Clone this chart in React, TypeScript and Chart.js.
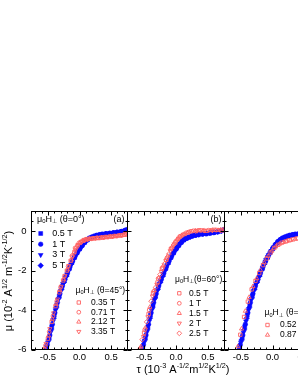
import React, { useEffect, useRef } from 'react';
import { Chart, registerables } from 'chart.js';
import { drawPoint } from 'chart.js/helpers';

Chart.register(...registerables);

const FONT = '"Liberation Sans", Arial, "DejaVu Sans", sans-serif';
const BLUE = '#0a0aff';
const RED = '#ff6262';

// axis ranges and ticks
const X_MIN = -0.76;
const X_MAX = 0.76;
const Y_MIN = -6;
const Y_MAX = 1;
const xMajorTicks = [-0.5, 0, 0.5];
const xMinorTicks = [-0.7, -0.6, -0.4, -0.3, -0.2, -0.1, 0.1, 0.2, 0.3, 0.4, 0.6, 0.7];
const yMajorTicks = [-6, -4, -2, 0];
const yMinorTicks = [-5.5, -5, -4.5, -3.5, -3, -2.5, -1.5, -1, -0.5, 0.5];

// theta = 0 deg (blue, filled)
const tauB05 = [-0.56, -0.52, -0.48, -0.44, -0.40, -0.36, -0.32, -0.28, -0.24, -0.20, -0.16, -0.12, -0.08, -0.04, 0.00, 0.04, 0.08, 0.12, 0.16, 0.20, 0.24, 0.28, 0.33, 0.39, 0.45, 0.51, 0.57, 0.63, 0.69, 0.75];
const muB05 = [-6.35, -5.87, -5.40, -4.86, -4.27, -3.75, -3.28, -2.86, -2.52, -2.20, -1.88, -1.59, -1.33, -1.10, -0.90, -0.72, -0.57, -0.45, -0.36, -0.30, -0.25, -0.21, -0.18, -0.14, -0.12, -0.10, -0.07, -0.04, 0.00, 0.08];
const tauB1 = [-0.55, -0.51, -0.47, -0.43, -0.39, -0.35, -0.31, -0.27, -0.23, -0.19, -0.15, -0.11, -0.07, -0.03, 0.01, 0.05, 0.09, 0.13, 0.17, 0.21, 0.25, 0.30, 0.36, 0.42, 0.48, 0.54, 0.60, 0.66, 0.72];
const muB1 = [-6.25, -5.76, -5.27, -4.72, -4.14, -3.62, -3.17, -2.77, -2.44, -2.12, -1.80, -1.52, -1.27, -1.05, -0.86, -0.68, -0.53, -0.42, -0.34, -0.29, -0.24, -0.20, -0.16, -0.13, -0.11, -0.08, -0.06, -0.02, 0.03];
const tauB3 = [-0.54, -0.50, -0.46, -0.42, -0.38, -0.34, -0.30, -0.26, -0.22, -0.18, -0.14, -0.10, -0.06, -0.02, 0.02, 0.06, 0.10, 0.14, 0.18, 0.22, 0.26, 0.31, 0.37, 0.43, 0.49, 0.55, 0.61, 0.67, 0.73];
const muB3 = [-6.12, -5.65, -5.14, -4.57, -4.01, -3.50, -3.06, -2.68, -2.36, -2.04, -1.73, -1.45, -1.21, -1.00, -0.81, -0.64, -0.50, -0.40, -0.33, -0.28, -0.23, -0.19, -0.16, -0.13, -0.11, -0.08, -0.05, -0.01, 0.05];
const tauB5 = [-0.53, -0.49, -0.45, -0.41, -0.37, -0.33, -0.29, -0.25, -0.21, -0.17, -0.13, -0.09, -0.05, -0.01, 0.03, 0.07, 0.11, 0.15, 0.19, 0.23, 0.27, 0.32, 0.35, 0.41, 0.47, 0.53, 0.59, 0.65, 0.71, 0.76];
const muB5 = [-6.00, -5.52, -5.00, -4.42, -3.88, -3.39, -2.96, -2.60, -2.28, -1.96, -1.66, -1.39, -1.15, -0.95, -0.77, -0.60, -0.47, -0.38, -0.32, -0.27, -0.22, -0.18, -0.17, -0.14, -0.12, -0.09, -0.06, -0.03, 0.02, 0.09];

// theta = 45 deg (panel a, red open)
const tauA035 = [-0.56, -0.50, -0.44, -0.38, -0.32, -0.26, -0.20, -0.14, -0.08, -0.03, 0.02, 0.07, 0.12, 0.18, 0.24, 0.30, 0.37, 0.44, 0.51, 0.58, 0.65, 0.72];
const muA035 = [-6.0, -5.45, -4.6, -3.8, -3.1, -2.5, -2.0, -1.5, -1.05, -0.72, -0.55, -0.45, -0.4, -0.38, -0.36, -0.35, -0.33, -0.3, -0.28, -0.25, -0.22, -0.18];
const tauA071 = [-0.54, -0.48, -0.42, -0.36, -0.30, -0.24, -0.18, -0.12, -0.07, -0.01, 0.04, 0.09, 0.15, 0.21, 0.27, 0.33, 0.40, 0.47, 0.54, 0.61, 0.68, 0.75];
const muA071 = [-5.8, -5.1, -4.3, -3.55, -2.85, -2.3, -1.8, -1.25, -0.85, -0.6, -0.5, -0.42, -0.38, -0.36, -0.34, -0.33, -0.3, -0.27, -0.25, -0.22, -0.2, -0.15];
const tauA212 = [-0.55, -0.49, -0.43, -0.37, -0.31, -0.25, -0.19, -0.13, -0.09, -0.05, 0.0, 0.05, 0.10, 0.16, 0.22, 0.28, 0.35, 0.42, 0.49, 0.56, 0.63, 0.70];
const muA212 = [-5.95, -5.3, -4.45, -3.7, -3.0, -2.45, -1.95, -1.45, -1.1, -0.8, -0.62, -0.5, -0.43, -0.4, -0.37, -0.35, -0.32, -0.3, -0.27, -0.25, -0.22, -0.2];
const tauA335 = [-0.53, -0.47, -0.41, -0.35, -0.29, -0.23, -0.17, -0.11, -0.06, -0.02, 0.03, 0.08, 0.13, 0.19, 0.25, 0.31, 0.38, 0.45, 0.52, 0.59, 0.66, 0.73];
const muA335 = [-5.7, -4.95, -4.15, -3.45, -2.8, -2.25, -1.75, -1.3, -0.95, -0.7, -0.55, -0.47, -0.42, -0.38, -0.35, -0.32, -0.3, -0.28, -0.26, -0.23, -0.2, -0.12];

// theta = 60 deg (panel b, red open)
const tauC05 = [-0.57, -0.50, -0.43, -0.36, -0.29, -0.22, -0.15, -0.08, -0.01, 0.06, 0.14, 0.24, 0.36, 0.48, 0.60, 0.72];
const muC05 = [-6.05, -5.15, -4.2, -3.15, -2.6, -1.9, -1.45, -0.9, -0.58, -0.28, -0.14, 0.0, 0.05, 0.02, 0.07, 0.04];
const tauC1 = [-0.56, -0.49, -0.42, -0.35, -0.28, -0.21, -0.14, -0.07, 0.0, 0.07, 0.16, 0.27, 0.39, 0.51, 0.63, 0.75];
const muC1 = [-5.95, -5.0, -4.0, -3.05, -2.4, -1.85, -1.35, -0.85, -0.5, -0.25, -0.08, 0.02, 0.04, 0.05, 0.06, 0.1];
const tauC15 = [-0.55, -0.48, -0.41, -0.34, -0.27, -0.20, -0.13, -0.06, 0.02, 0.09, 0.18, 0.30, 0.42, 0.54, 0.66];
const muC15 = [-5.85, -4.9, -3.85, -3.0, -2.35, -1.75, -1.25, -0.8, -0.43, -0.22, -0.07, 0.02, 0.03, 0.04, 0.05];
const tauC2 = [-0.58, -0.51, -0.44, -0.37, -0.30, -0.23, -0.16, -0.09, -0.03, 0.04, 0.12, 0.21, 0.33, 0.45, 0.57, 0.69];
const muC2 = [-6.2, -5.35, -4.35, -3.3, -2.7, -2.05, -1.5, -1.0, -0.65, -0.36, -0.16, -0.04, 0.02, 0.03, 0.04, 0.06];
const tauC25 = [-0.53, -0.46, -0.39, -0.32, -0.25, -0.18, -0.11, -0.04, 0.03, 0.10, 0.20, 0.31, 0.44, 0.57, 0.70];
const muC25 = [-5.5, -4.6, -3.55, -2.85, -2.2, -1.65, -1.15, -0.7, -0.4, -0.2, -0.05, 0.01, 0.03, 0.05, 0.07];

// panel c (red open)
const tauD052 = [-0.57, -0.51, -0.45, -0.39, -0.33, -0.27, -0.21, -0.15, -0.09, -0.03, 0.03, 0.09, 0.15, 0.21, 0.27, 0.33, 0.40, 0.48, 0.56, 0.64, 0.72];
const muD052 = [-6.1, -5.25, -4.35, -3.57, -2.95, -2.52, -2.12, -1.72, -1.38, -1.08, -0.85, -0.69, -0.58, -0.52, -0.46, -0.41, -0.37, -0.32, -0.28, -0.24, -0.2];
const tauD087 = [-0.55, -0.49, -0.43, -0.37, -0.31, -0.25, -0.19, -0.13, -0.07, -0.01, 0.05, 0.11, 0.17, 0.23, 0.29, 0.36, 0.44, 0.52, 0.60, 0.68, 0.75];
const muD087 = [-5.85, -4.95, -4.05, -3.35, -2.8, -2.4, -1.98, -1.6, -1.27, -1.0, -0.79, -0.65, -0.56, -0.5, -0.45, -0.39, -0.35, -0.3, -0.26, -0.22, -0.18];

type Part = [string, number];
const TITLE_Y: Part[] = [['μ (10', 0], ['-2', 1], [' A', 0], ['1/2', 1], [' m', 0], ['-1/2', 1], ['K', 0], ['-1/2', 1], [')', 0]];
const TITLE_X: Part[] = [['τ (10', 0], ['-3', 1], [' A', 0], ['-1/2', 1], ['m', 0], ['1/2', 1], ['K', 0], ['1/2', 1], [')', 0]];
const H0: Part[] = [['μ', 0], ['0', -1], ['H', 0], ['⊥', -1], [' (θ=0°)', 0]];
const H45: Part[] = [['μ', 0], ['0', -1], ['H', 0], ['⊥', -1], [' (θ=45°)', 0]];
const H60: Part[] = [['μ', 0], ['0', -1], ['H', 0], ['⊥', -1], ['(θ=60°)', 0]];
const H75: Part[] = [['μ', 0], ['0', -1], ['H', 0], ['⊥', -1], [' (θ=75°)', 0]];

const pts = (t: number[], m: number[]) => t.map((x, i) => ({ x, y: m[i] }));

function mk(label: string, tau: number[], mu: number[], style: string, rot: number, filled: boolean, r: number) {
  return {
    label,
    data: pts(tau, mu),
    showLine: false,
    pointStyle: style,
    pointRotation: rot,
    pointRadius: r,
    pointBackgroundColor: filled ? BLUE : 'rgba(0,0,0,0)',
    pointBorderColor: filled ? BLUE : RED,
    pointBorderWidth: filled ? 0.5 : 0.9,
    clip: 0,
    order: filled ? 2 : 1,
  };
}

const blueSets = () => [
  mk('0.5 T', tauB05, muB05, 'rect', 0, true, 2.8),
  mk('1 T', tauB1, muB1, 'circle', 0, true, 2.3),
  mk('3 T', tauB3, muB3, 'triangle', 180, true, 2.8),
  mk('5 T', tauB5, muB5, 'rectRot', 0, true, 2.8),
];

function textWidth(ctx: CanvasRenderingContext2D, parts: Part[], size: number) {
  let w = 0;
  for (const [t, k] of parts) {
    ctx.font = `${k === 0 ? size : size * 0.66}px ${FONT}`;
    w += ctx.measureText(t).width;
  }
  return w;
}

function drawRich(ctx: CanvasRenderingContext2D, parts: Part[], x: number, y: number, size: number) {
  ctx.textBaseline = 'middle';
  ctx.textAlign = 'left';
  ctx.fillStyle = '#000';
  let cx = x;
  for (const [t, k] of parts) {
    const s = k === 0 ? size : size * 0.66;
    ctx.font = `${s}px ${FONT}`;
    const dy = k === 1 ? -size * 0.36 : k === -1 ? size * 0.25 : 0;
    ctx.fillText(t, cx, y + dy);
    cx += ctx.measureText(t).width;
  }
}

interface Group { heading: Part[]; hx: number; hy: number; mx: number; tx: number; ys: number[]; ds: number[]; size: number; }
interface PanelDef { left: number; right: number; showY: boolean; datasets: any[]; groups: Group[]; label?: { text: string; x: number; y: number }; titles: boolean; }

const TOP = 211.5;
const BOTTOM = 349.5;
const CW = 330;
const CH = 385;

const panels: PanelDef[] = [
  {
    left: 31.5, right: 127.5, showY: true, titles: true,
    datasets: [
      mk('0.35 T', tauA035, muA035, 'rect', 0, false, 2.4),
      mk('0.71 T', tauA071, muA071, 'circle', 0, false, 1.9),
      mk('2.12 T', tauA212, muA212, 'triangle', 0, false, 2.4),
      mk('3.35 T', tauA335, muA335, 'triangle', 180, false, 2.4),
      ...blueSets(),
    ],
    groups: [
      { heading: H0, hx: 37, hy: 219.5, mx: 40.7, tx: 52.3, ys: [233.5, 244.2, 254.9, 265.6], ds: [4, 5, 6, 7], size: 9 },
      { heading: H45, hx: 75.5, hy: 290.7, mx: 78.8, tx: 91, ys: [302.5, 312.2, 321.9, 331.6], ds: [0, 1, 2, 3], size: 8.5 },
    ],
    label: { text: '(a)', x: 119, y: 219.5 },
  },
  {
    left: 127.5, right: 224.5, showY: false, titles: false,
    datasets: [
      mk('0.5 T', tauC05, muC05, 'rect', 0, false, 2.4),
      mk('1 T', tauC1, muC1, 'circle', 0, false, 1.9),
      mk('1.5 T', tauC15, muC15, 'triangle', 0, false, 2.4),
      mk('2 T', tauC2, muC2, 'triangle', 180, false, 2.4),
      mk('2.5 T', tauC25, muC25, 'rectRot', 0, false, 2.4),
      ...blueSets(),
    ],
    groups: [
      { heading: H60, hx: 175, hy: 279.5, mx: 179.3, tx: 189, ys: [293.3, 303.3, 313.3, 323.3, 333.3], ds: [0, 1, 2, 3, 4], size: 8.5 },
    ],
    label: { text: '(b)', x: 216, y: 219.5 },
  },
  {
    left: 224.5, right: 320.5, showY: false, titles: false,
    datasets: [
      mk('0.52 T', tauD052, muD052, 'rect', 0, false, 2.4),
      mk('0.87 T', tauD087, muD087, 'triangle', 0, false, 2.4),
      ...blueSets(),
    ],
    groups: [
      { heading: H75, hx: 264.5, hy: 313, mx: 267.5, tx: 280, ys: [325, 335], ds: [0, 1], size: 8.5 },
    ],
    label: { text: '(c)', x: 313, y: 219.5 },
  },
];

function makeDecor(p: PanelDef) {
  return {
    id: 'decor',
    afterDraw(chart: any) {
      const { ctx, chartArea: a } = chart;
      const x = chart.scales.x;
      const y = chart.scales.y;
      ctx.save();
      ctx.strokeStyle = '#000';
      ctx.lineWidth = 1;
      ctx.strokeRect(a.left, a.top, a.right - a.left, a.bottom - a.top);
      ctx.beginPath();
      const vt = (v: number, len: number) => {
        const px = Math.round(x.getPixelForValue(v)) + 0.5;
        ctx.moveTo(px, a.bottom); ctx.lineTo(px, a.bottom - len);
        ctx.moveTo(px, a.top); ctx.lineTo(px, a.top + len);
      };
      const ht = (v: number, len: number) => {
        const py = Math.round(y.getPixelForValue(v)) + 0.5;
        ctx.moveTo(a.left, py); ctx.lineTo(a.left + len, py);
        ctx.moveTo(a.right, py); ctx.lineTo(a.right - len, py);
      };
      xMajorTicks.forEach((v) => vt(v, 4));
      xMinorTicks.forEach((v) => vt(v, 2));
      yMajorTicks.forEach((v) => ht(v, 4));
      yMinorTicks.forEach((v) => ht(v, 2));
      ctx.stroke();

      // legends
      for (const g of p.groups) {
        drawRich(ctx, g.heading, g.hx, g.hy, g.size);
        g.ds.forEach((di, k) => {
          const d = chart.data.datasets[di];
          ctx.fillStyle = d.pointBackgroundColor;
          ctx.strokeStyle = d.pointBorderColor;
          ctx.lineWidth = d.pointBorderWidth;
          drawPoint(ctx, { pointStyle: d.pointStyle, radius: d.pointRadius, rotation: d.pointRotation || 0, borderWidth: d.pointBorderWidth } as any, g.mx, g.ys[k]);
          drawRich(ctx, [[d.label, 0]], g.tx, g.ys[k], g.size);
        });
      }
      if (p.label) {
        ctx.font = `9px ${FONT}`;
        ctx.fillStyle = '#000';
        ctx.textAlign = 'center';
        ctx.textBaseline = 'middle';
        ctx.fillText(p.label.text, p.label.x, p.label.y);
      }
      if (p.titles) {
        const ts = 11;
        const wx = textWidth(ctx, TITLE_X, ts);
        drawRich(ctx, TITLE_X, 183 - wx / 2, 370, ts);
        const wy = textWidth(ctx, TITLE_Y, ts);
        ctx.save();
        ctx.translate(9, 281);
        ctx.rotate(-Math.PI / 2);
        drawRich(ctx, TITLE_Y, -wy / 2, 0, ts);
        ctx.restore();
      }
      ctx.restore();
    },
  };
}

function Panel({ p }: { p: PanelDef }) {
  const ref = useRef<HTMLCanvasElement>(null);
  useEffect(() => {
    const chart = new Chart(ref.current as HTMLCanvasElement, {
      type: 'scatter',
      data: { datasets: p.datasets as any },
      options: {
        animation: false,
        responsive: false,
        devicePixelRatio: 1,
        events: [],
        layout: { padding: { left: 0, right: CW - p.right, top: TOP, bottom: 0 } },
        plugins: { legend: { display: false }, tooltip: { enabled: false } },
        scales: {
          x: {
            type: 'linear',
            min: X_MIN,
            max: X_MAX,
            afterFit: (s: any) => { s.height = CH - BOTTOM; },
            afterBuildTicks: (s: any) => { s.ticks = xMajorTicks.map((v) => ({ value: v })); },
            ticks: {
              callback: (v: any) => Number(v).toFixed(1),
              font: { family: FONT, size: 9.5 },
              color: '#000',
              padding: 2,
              maxRotation: 0,
              autoSkip: false,
            },
            grid: { display: false, drawTicks: false },
            border: { display: false },
          },
          y: {
            type: 'linear',
            min: Y_MIN,
            max: Y_MAX,
            display: true,
            afterFit: (s: any) => { s.width = p.left; },
            afterBuildTicks: (s: any) => { s.ticks = yMajorTicks.map((v) => ({ value: v })); },
            ticks: {
              display: p.showY,
              callback: (v: any) => String(v),
              font: { family: FONT, size: 9.5 },
              color: '#000',
              padding: 5,
              autoSkip: false,
            },
            grid: { display: false, drawTicks: false },
            border: { display: false },
          },
        },
      } as any,
      plugins: [makeDecor(p)],
    });
    return () => chart.destroy();
  }, [p]);
  return (
    <canvas
      ref={ref}
      width={CW}
      height={CH}
      style={{ position: 'absolute', left: 0, top: 0, width: CW, height: CH }}
    />
  );
}

export default function App() {
  return (
    <div style={{ position: 'fixed', left: 0, top: 0, width: 298, height: 385, overflow: 'hidden', background: '#fff' }}>
      {panels.map((p, i) => (
        <Panel key={i} p={p} />
      ))}
    </div>
  );
}
